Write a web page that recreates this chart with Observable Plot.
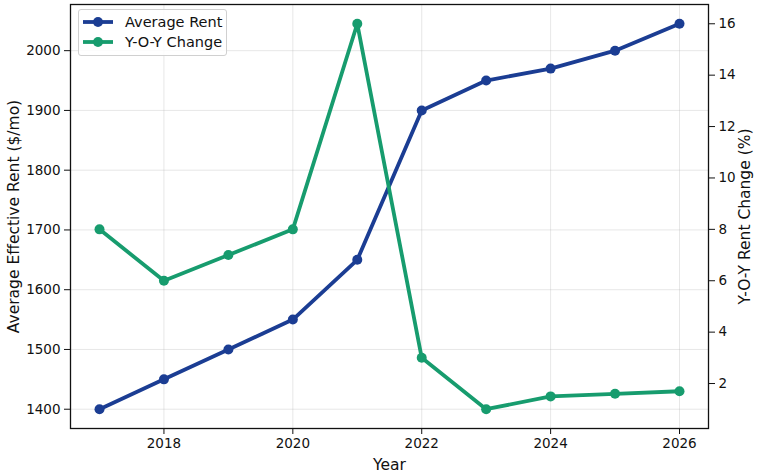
<!DOCTYPE html>
<html>
<head>
<meta charset="utf-8">
<script src="https://cdn.jsdelivr.net/npm/d3@7"></script>
<script src="https://cdn.jsdelivr.net/npm/@observablehq/plot@0.6"></script>
<style>
  body { margin: 0; background: #fff; font-family: "DejaVu Sans", sans-serif; }
  #wrap { position: relative; width: 760px; height: 475px; }
  #wrap svg text { font-family: "DejaVu Sans", sans-serif; }
  #wrap svg text.tick { font-size: 13.5px !important; }
  #wrap svg text.alab { font-size: 15.5px !important; }
  #legend { position: absolute; left: 78px; top: 9px; width: 149px; height: 47px; box-sizing: border-box;
    border: 1px solid #d0d0d0; border-radius: 3px; background: rgba(255,255,255,0.85); font-size: 14.5px; color: #111; }
  .row { position: absolute; left: 0; height: 20px; display: flex; align-items: center; }
  .row svg { margin-left: 4px; margin-right: 12px; }
</style>
</head>
<body>
<div id="wrap"></div>
<script>
const years = [2017, 2018, 2019, 2020, 2021, 2022, 2023, 2024, 2025, 2026];
const avgRent = [1400, 1450, 1500, 1550, 1650, 1900, 1950, 1970, 2000, 2045];
const yoyChange = [8, 6, 7, 8, 16, 3, 1, 1.5, 1.6, 1.7];
const xTicks = [2018, 2020, 2022, 2024, 2026];
const leftTicks = [1400, 1500, 1600, 1700, 1800, 1900, 2000];
const rightTicks = [2, 4, 6, 8, 10, 12, 14, 16];
const seriesNames = ["Average Rent", "Y-O-Y Change"];
const colors = ["#1b3d93", "#179c6e"];

const xDomain = [2016.55, 2026.45];
const yLDomain = [1367.75, 2077.25];
const yRDomain = [0.25, 16.75];
const toLeft = d3.scaleLinear().domain(yRDomain).range(yLDomain);

const rentData = years.map((y, i) => ({year: y, value: avgRent[i]}));
const yoyData = years.map((y, i) => ({year: y, value: toLeft(yoyChange[i])}));

const chart = Plot.plot({
  width: 760,
  height: 475,
  marginTop: 4,
  marginRight: 52,
  marginBottom: 47,
  marginLeft: 70,
  style: {fontFamily: "DejaVu Sans, sans-serif", color: "#111", background: "#fff", overflow: "visible"},
  x: {domain: xDomain},
  y: {domain: yLDomain},
  marks: [
    Plot.gridX(xTicks, {stroke: "#b0b0b0", strokeOpacity: 0.3, strokeWidth: 1}),
    Plot.gridY(leftTicks, {stroke: "#b0b0b0", strokeOpacity: 0.3, strokeWidth: 1}),
    Plot.axisX(xTicks, {tickFormat: d => String(d), tickSize: 6, tickPadding: 4,
      label: "Year", labelAnchor: "center", labelArrow: "none", labelOffset: 41, stroke: "#111"}),
    Plot.axisY(leftTicks, {anchor: "left", tickFormat: d => String(d), tickSize: 6, tickPadding: 4,
      label: "Average Effective Rent ($/mo)", labelAnchor: "center", labelArrow: "none", labelOffset: 63, stroke: "#111"}),
    Plot.axisY(rightTicks.map(t => toLeft(t)), {anchor: "right", tickFormat: d => String(Math.round(toLeft.invert(d))),
      tickSize: 6, tickPadding: 4,
      label: "Y-O-Y Rent Change (%)", labelAnchor: "center", labelArrow: "none", labelOffset: 41, stroke: "#111"}),
    Plot.line(rentData, {x: "year", y: "value", stroke: colors[0], strokeWidth: 3.8}),
    Plot.dot(rentData, {x: "year", y: "value", fill: colors[0], r: 5}),
    Plot.line(yoyData, {x: "year", y: "value", stroke: colors[1], strokeWidth: 3.8}),
    Plot.dot(yoyData, {x: "year", y: "value", fill: colors[1], r: 5}),
    Plot.frame({stroke: "#111", strokeWidth: 1.3})
  ]
});
const wrap = document.getElementById("wrap");
wrap.appendChild(chart);
wrap.querySelectorAll("svg text").forEach(t => {
  const s = (t.textContent || "").trim();
  if (/^\d+$/.test(s)) { t.classList.add("tick"); t.setAttribute("font-size", "13.5"); }
  else if (s.length) { t.classList.add("alab"); t.setAttribute("font-size", "15.5"); }
});

const legend = document.createElement("div");
legend.id = "legend";
seriesNames.forEach((name, i) => {
  const row = document.createElement("div");
  row.className = "row";
  row.style.top = (i === 0 ? 2 : 22) + "px";
  row.innerHTML = `<svg width="30" height="12"><line x1="0" y1="6" x2="30" y2="6" stroke="${colors[i]}" stroke-width="3.8"/><circle cx="15" cy="6" r="5" fill="${colors[i]}"/></svg><span>${name}</span>`;
  legend.appendChild(row);
});
wrap.appendChild(legend);
</script>
</body>
</html>
